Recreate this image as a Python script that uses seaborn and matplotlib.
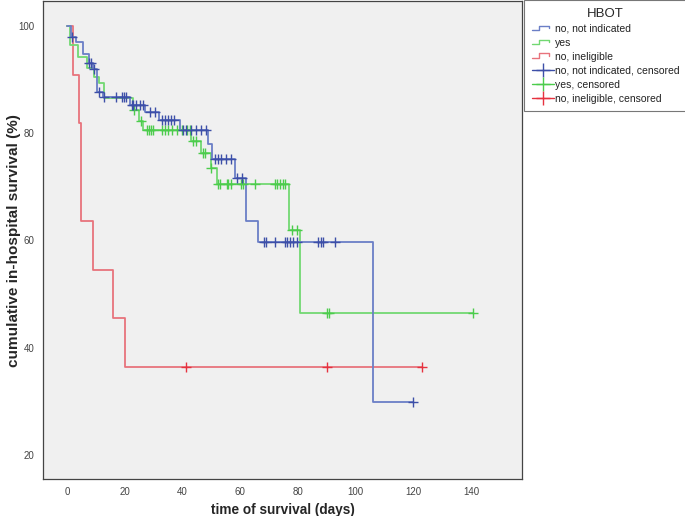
import numpy as np
import pandas as pd
import matplotlib
matplotlib.use("Agg")
import matplotlib.pyplot as plt
import seaborn as sns
from matplotlib.lines import Line2D
from matplotlib.legend_handler import HandlerBase

# ---------------- data ----------------
groups = ["no, not indicated", "yes", "no, ineligible"]

blue_event_t = [1.5, 3.0, 5.5, 7.5, 9.0, 10.5, 12.5, 21.8, 27.0, 31.9, 39.2, 49.0, 50.1, 58.2, 62.0, 66.1, 105.9]
blue_event_s = [98.0, 96.9, 94.8, 93.0, 91.9, 87.6, 86.7, 85.3, 83.9, 82.5, 80.6, 78.0, 75.2, 71.6, 63.7, 59.7, 29.9]
blue_cens_t = [1.6, 7.7, 8.3, 9.5, 11.2, 12.9, 17.0, 19.0, 19.6, 20.4,
               22.4, 23.0, 23.9, 25.3, 26.4, 28.8, 30.5, 32.8, 33.8, 35.0, 36.2, 37.1,
               40.3, 41.4, 43.1, 44.8, 46.6, 48.2, 51.3, 52.5, 53.3, 55.1, 57.0, 59.0, 60.5,
               68.3, 69.0, 72.1, 75.5, 76.3, 77.3, 78.2, 79.8, 87.1, 87.9, 88.8, 92.9, 120.0]

green_event_t = [1.0, 3.9, 6.8, 9.5, 11.2, 12.9, 23.0, 24.8, 26.4, 42.9, 46.6, 49.8, 52.0, 76.9, 80.7]
green_event_s = [96.4, 94.1, 92.2, 90.4, 89.3, 86.6, 84.3, 82.2, 80.6, 78.5, 76.2, 73.5, 70.5, 61.9, 46.4]
green_cens_t = [23.3, 25.5, 27.6, 28.3, 29.2, 29.9, 32.8, 33.8, 34.9, 36.3, 38.0, 39.7, 41.7, 42.6,
                43.8, 44.7, 47.2, 47.8, 49.9, 52.4, 53.0, 55.3, 55.9, 56.7, 60.2, 60.9, 65.1,
                72.1, 72.8, 73.8, 74.7, 75.6, 77.9, 79.8, 90.0, 90.9, 140.8]

red_event_t = [2.0, 4.2, 5.0, 9.0, 16.0, 20.0]
red_event_s = [90.9, 81.8, 63.6, 54.5, 45.5, 36.4]
red_cens_t = [41.2, 90.0, 123.0]

x_ticks = [0, 20, 40, 60, 80, 100, 120, 140]
y_ticks = [20, 40, 60, 80, 100]

line_colors = {"no, not indicated": "#6b7fc6", "yes": "#72d872", "no, ineligible": "#e8737c"}
cens_colors = {"no, not indicated": "#3d4fa8", "yes": "#4ccc4c", "no, ineligible": "#e6323f"}


def surv_at(t, ev_t, ev_s):
    s = 100.0
    for et, es in zip(ev_t, ev_s):
        if et <= t:
            s = es
    return s


series = {
    "no, not indicated": (blue_event_t, blue_event_s, blue_cens_t),
    "yes": (green_event_t, green_event_s, green_cens_t),
    "no, ineligible": (red_event_t, red_event_s, red_cens_t),
}

line_rows, cens_rows = [], []
for g, (et, es, ct) in series.items():
    end_t = max(max(ct), max(et))
    line_rows.append((g, 0.0, 100.0))
    for t_, s_ in zip(et, es):
        line_rows.append((g, t_, s_))
    line_rows.append((g, end_t, surv_at(end_t, et, es)))
    for c in ct:
        cens_rows.append((g, c, surv_at(c, et, es)))

lines_df = pd.DataFrame(line_rows, columns=["group", "time", "surv"])
cens_df = pd.DataFrame(cens_rows, columns=["group", "time", "surv"])

# ---------------- plot ----------------
sns.set_style("white")
plt.rcParams["font.family"] = ["Liberation Sans", "DejaVu Sans"]

fig = plt.figure(figsize=(6.85, 5.16), dpi=100)
fig.patch.set_facecolor("white")
ax = fig.add_axes([0.0628, 0.0717, 0.699, 0.926])
ax.set_facecolor("#f0f0f0")

for g in ["no, ineligible", "yes", "no, not indicated"]:
    sub = lines_df[lines_df["group"] == g]
    sns.lineplot(data=sub, x="time", y="surv", ax=ax, estimator=None, sort=False,
                 drawstyle="steps-post", color=line_colors[g], linewidth=1.3, legend=False)
    csub = cens_df[cens_df["group"] == g]
    sns.scatterplot(data=csub, x="time", y="surv", ax=ax, marker="+", s=45,
                    color=cens_colors[g], linewidth=1.0, legend=False, zorder=5)

ax.set_xlim(-8.3, 157.6)
ax.set_ylim(15.5, 104.6)
ax.set_xticks(x_ticks)
ax.set_yticks(y_ticks)
ax.set_xticklabels([str(v) for v in x_ticks], fontsize=7, color="#444444")
ax.set_yticklabels([str(v) for v in y_ticks], fontsize=7, color="#444444")
ax.tick_params(axis="both", direction="out", length=4, width=0.8, color="#333333", pad=2)
for sp in ax.spines.values():
    sp.set_color("#444444")
    sp.set_linewidth(0.9)

ax.set_xlabel("time of survival (days)", fontsize=9.8, fontweight="bold", labelpad=4)
ax.set_ylabel("cumulative in-hospital survival (%)", fontsize=11, fontweight="bold", labelpad=-2)


class HandlerStep(HandlerBase):
    def create_artists(self, legend, orig_handle, xdescent, ydescent, width, height, fontsize, trans):
        x0 = -xdescent
        y0 = -ydescent
        xs = [x0, x0 + 0.35 * width, x0 + 0.35 * width, x0 + 0.8 * width, x0 + 0.8 * width]
        ys = [y0 + 0.2 * height, y0 + 0.2 * height, y0 + 0.85 * height, y0 + 0.85 * height, y0 + 0.5 * height]
        ln = Line2D(xs, ys, color=orig_handle.get_color(), linewidth=1.0, transform=trans)
        return [ln]


class HandlerCens(HandlerBase):
    def create_artists(self, legend, orig_handle, xdescent, ydescent, width, height, fontsize, trans):
        x0 = -xdescent
        y0 = -ydescent
        ln = Line2D([x0, x0 + width], [y0 + height / 2] * 2, color=orig_handle.get_color(),
                    linewidth=1.0, transform=trans)
        mk = Line2D([x0 + width / 2], [y0 + height / 2], marker="+", markersize=10,
                    markeredgewidth=1.0, color=orig_handle.get_color(), linestyle="none",
                    transform=trans)
        return [ln, mk]


step_handles = [Line2D([], [], color=line_colors[g]) for g in groups]
cens_handles = [Line2D([], [], color=cens_colors[g]) for g in groups]
handles = step_handles + cens_handles
labels = groups + [g + ", censored" for g in groups]
handler_map = {h: HandlerStep() for h in step_handles}
handler_map.update({h: HandlerCens() for h in cens_handles})

leg = fig.legend(handles, labels, handler_map=handler_map, title="HBOT",
                 loc="upper left", bbox_to_anchor=(0.765, 1.0), frameon=True,
                 fontsize=7.5, title_fontsize=9.5, handlelength=2.1, handletextpad=0.1,
                 labelspacing=0.38, borderpad=0.75, fancybox=False, borderaxespad=0.0)
leg.get_frame().set_edgecolor("#555555")
leg.get_frame().set_linewidth(0.8)
for t in leg.get_texts():
    t.set_color("#222222")

fig.savefig("out.png", dpi=100, facecolor="white")
